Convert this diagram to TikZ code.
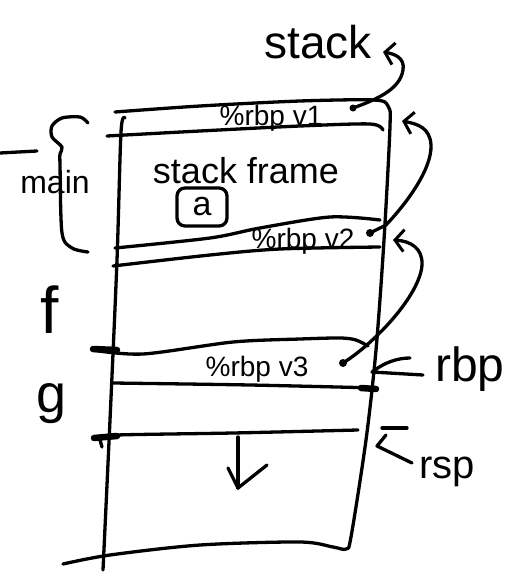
\documentclass[tikz,border=0pt]{standalone}
\usepackage{fontspec}
\setmainfont{Liberation Sans}
\usetikzlibrary{arrows.meta}
\tikzset{
  pen/.style={line width=3.3pt, line cap=round, line join=round},
  heavy/.style={line width=6.5pt, line cap=round},
  arr/.style={pen, -{Straight Barb[length=9pt,width=22pt,line width=3pt]}},
  lbl/.style={inner sep=0pt, text depth=0pt},
  pdot/.style={circle, fill, inner sep=0pt, minimum size=8pt},
}
\begin{document}
\begin{tikzpicture}[x=1pt,y=-1pt]
\useasboundingbox (0,0) rectangle (516,578);

% stack outline: top edge, right side, bottom edge
\draw[pen] plot[smooth, tension=0.5] coordinates {(115,112) (200,106) (300,101) (374,100) (388,106) (390,126) (384,240) (376,350) (366,440) (351,537) (346,549) (333,547) (300,542) (200,545) (110,555) (63,564)};
% left side
\draw[pen] plot[smooth] coordinates {(125,118) (121,132) (117,260) (110,420) (103,570)};

% band of the saved %rbp of main
\draw[pen] plot[smooth] coordinates {(107,136) (200,131) (300,126) (370,124) (383,130)};
% band of the saved %rbp of f
\draw[pen] plot[smooth] coordinates {(115,248) (210,238) (260,228) (330,217) (380,220)};
\draw[pen] plot[smooth] coordinates {(113,266) (210,255) (280,249) (380,247)};
% band of the saved %rbp of g
\draw[pen] plot[smooth] coordinates {(92,350) (143,354) (233,342) (300,339) (340,338) (356,340) (368,346)};
\draw[heavy] (93,349) -- (117,350);
\draw[pen] plot[smooth] coordinates {(113,383) (250,385) (377,388)};
\draw[heavy] (361,388) -- (376,389);
% current top of the stack
\draw[pen] plot[smooth] coordinates {(93,438) (117,435) (233,433) (358,430)};
\draw[heavy] (94,438) -- (117,436);
\draw[pen] (100,440) -- (102,447);

% labels
\node[lbl, font=\fontsize{46}{46}\selectfont] (stack) at (318,42) {stack};
\node[lbl, font=\fontsize{28}{28}\selectfont] (v1) at (271,115) {\%rbp v1};
\node[lbl, font=\fontsize{36}{36}\selectfont] (sf) at (246,170) {stack frame};
\node[pen, draw, rounded corners=8pt, minimum width=50pt, minimum height=38pt, inner sep=0pt,
      font=\fontsize{34}{34}\selectfont] (a) at (202,207) {a};
\node[lbl, font=\fontsize{28}{28}\selectfont] (v2) at (303,238) {\%rbp v2};
\node[lbl, font=\fontsize{28}{28}\selectfont] (v3) at (257,366) {\%rbp v3};
\node[lbl, font=\fontsize{32}{32}\selectfont] (main) at (55,182) {main};
\node[lbl, font=\fontsize{66}{66}\selectfont] (f) at (50,310) {f};
\node[lbl, font=\fontsize{54}{54}\selectfont] (g) at (52,398) {g};
\node[lbl, font=\fontsize{48}{48}\selectfont] (rbp) at (470,364) {rbp};
\node[lbl, font=\fontsize{40}{40}\selectfont] (rsp) at (447,468) {rsp};

% brace for main and its leader
\draw[pen] plot[smooth] coordinates {(88,123) (80,117) (62,118) (52,126) (52,137) (62,147) (60,154) (60,165) (62,233) (72,248) (88,252)};
\coordinate (lead) at (0,153);
\coordinate (leadend) at (37,151);
\draw[pen] (lead) -- (leadend);

% saved frame pointers and their links
\coordinate (v1dot) at (353,108);
\coordinate (stacktip) at (383,52);
\node[pdot] (v2dot) at (370,233) {};
\coordinate (v1tip) at (402,121);
\node[pdot] (v3dot) at (343,363) {};
\coordinate (v2tip) at (393,240);
\fill (v1dot) circle (3.5pt);

\draw[arr] (v1dot) .. controls (375,100) and (400,90) .. (403,70) .. controls (405,58) and (395,54) .. (stacktip);
\draw[arr] (v2dot.center) -- (386,225) .. controls (405,205) and (432,170) .. (431,145) .. controls (430,128) and (418,124) .. (v1tip);
\draw[arr] (v3dot.center) .. controls (375,343) and (420,295) .. (422,265) .. controls (423,248) and (410,241) .. (v2tip);

% register pointers
\coordinate (rbptail) at (423,375);
\coordinate (rbptip) at (372,372);
\draw[pen] (rbptail) -- (rbptip) .. controls (385,362) and (398,358) .. (410,358);
\coordinate (rsptail) at (412,463);
\coordinate (rsptip) at (377,446);
\draw[pen] (rsptail) -- (rsptip) -- (386,435);
\draw[pen] (382,428) -- (407,428);

% growth direction
\coordinate (downtop) at (238,437);
\coordinate (downtip) at (238,488);
\draw[pen] (downtop) -- (downtip);
\draw[pen] (228,468) -- (downtip) -- (267,465);
\end{tikzpicture}
\end{document}
